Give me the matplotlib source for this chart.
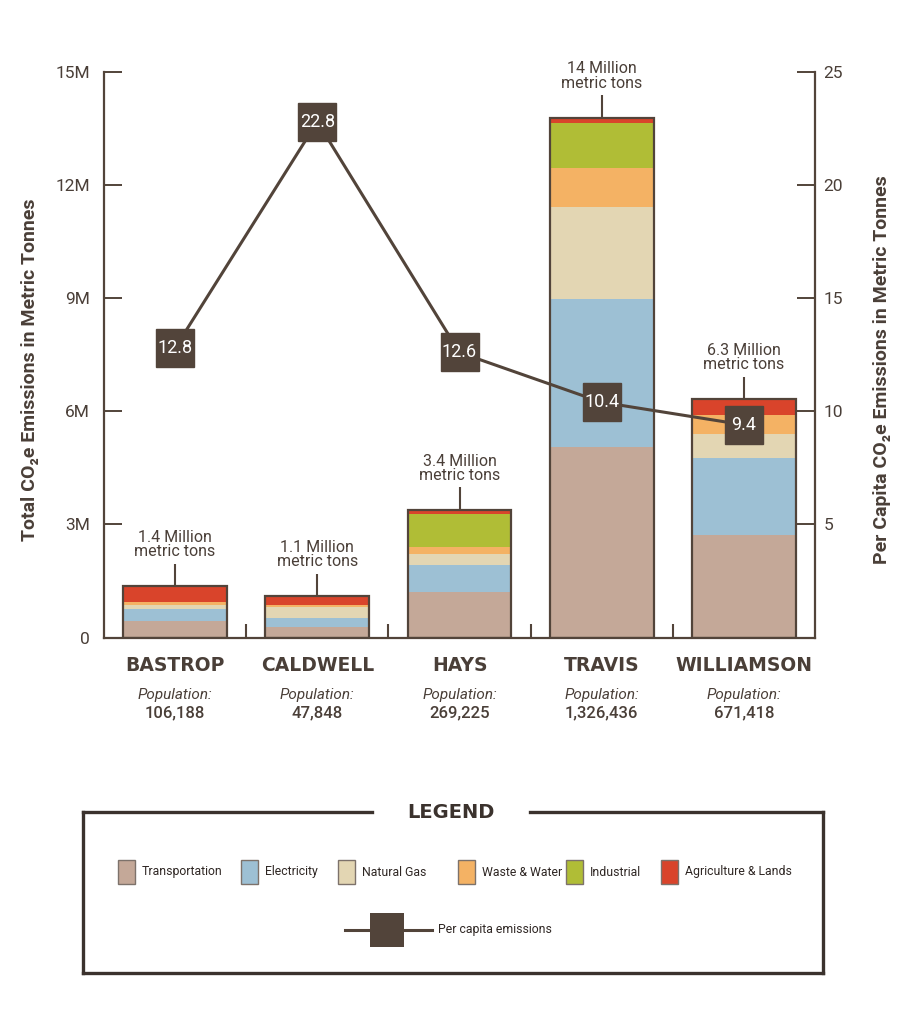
import matplotlib
matplotlib.use("Agg")
import matplotlib.pyplot as plt
import numpy as np
from matplotlib.patches import Rectangle
from matplotlib.lines import Line2D

plt.rcParams['font.family'] = ['Roboto', 'DejaVu Sans']

counties = ['BASTROP', 'CALDWELL', 'HAYS', 'TRAVIS', 'WILLIAMSON']
population = ['106,188', '47,848', '269,225', '1,326,436', '671,418']

# million metric tons
transportation = [0.44, 0.28, 1.20, 5.05, 2.72]
electricity = [0.32, 0.24, 0.73, 3.93, 2.04]
natural_gas = [0.11, 0.30, 0.28, 2.44, 0.65]
waste_water = [0.07, 0.04, 0.19, 1.03, 0.50]
industrial = [0.0, 0.0, 0.88, 1.21, 0.0]
agriculture = [0.42, 0.23, 0.10, 0.12, 0.41]

per_capita = [12.8, 22.8, 12.6, 10.4, 9.4]
total_labels = ['1.4 Million\nmetric tons', '1.1 Million\nmetric tons',
                '3.4 Million\nmetric tons', '14 Million\nmetric tons',
                '6.3 Million\nmetric tons']

sector_names = ['Transportation', 'Electricity', 'Natural Gas',
                'Waste & Water', 'Industrial', 'Agriculture & Lands']
sector_colors = ['#c4a898', '#9dc0d4', '#e3d6b3', '#f4b264', '#b0bd36', '#d9442b']

left_ticks = [0, 3e6, 6e6, 9e6, 12e6, 15e6]
left_tick_labels = ['0', '3M', '6M', '9M', '12M', '15M']
right_ticks = [5, 10, 15, 20, 25]

dark = '#52443a'
text_c = '#4a3f38'
box_c = '#3b322d'

W, H = 907, 1024


def fx(p):
    return p / W


def fy(p):
    return 1 - p / H


fig = plt.figure(figsize=(9.07, 10.24), dpi=100)
ax = fig.add_axes([fx(104), fy(637.5), fx(815) - fx(104), fy(72) - fy(637.5)])
ax2 = ax.twinx()

x = np.arange(len(counties))
width = 0.73
sectors = [transportation, electricity, natural_gas, waste_water, industrial, agriculture]
bottom = np.zeros(len(counties))
for vals, col in zip(sectors, sector_colors):
    v = np.array(vals) * 1e6
    ax.bar(x, v, width, bottom=bottom, color=col, linewidth=0, zorder=2)
    bottom += v
totals = bottom
ax.bar(x, totals, width, fill=False, edgecolor=dark, linewidth=1.6, zorder=3)

# total labels with connector
for xi, t, lab in zip(x, totals, total_labels):
    ax.vlines(xi, t, t + 0.6e6, color=dark, lw=1.5, zorder=3)
    ax.text(xi, t + 0.72e6, lab, ha='center', va='bottom', fontsize=11.5,
            color=text_c, linespacing=0.95)

# small separators on baseline
ax.vlines(x[:-1] + 0.5, 0, 0.36e6, color=dark, lw=1.5)

ax.set_xlim(-0.5, 4.5)
ax.set_ylim(0, 15e6)
ax.set_yticks(left_ticks)
ax.set_yticklabels(left_tick_labels)
ax.set_xticks([])
for s in ['top', 'right']:
    ax.spines[s].set_visible(False)
for s in ['left', 'bottom']:
    ax.spines[s].set_color(dark)
    ax.spines[s].set_linewidth(1.6)
ax.tick_params(axis='y', direction='in', length=13, width=1.4, color=dark,
               labelsize=12.5, labelcolor=text_c, pad=10)

ax2.set_ylim(0, 25)
ax2.set_yticks(right_ticks)
for s in ['top', 'left', 'bottom']:
    ax2.spines[s].set_visible(False)
ax2.spines['right'].set_color(dark)
ax2.spines['right'].set_linewidth(1.6)
ax2.tick_params(axis='y', direction='in', length=13, width=1.4, color=dark,
                labelsize=12.5, labelcolor=text_c, pad=6)

ax2.plot(x, per_capita, color=dark, lw=2.2, marker='s', markersize=27,
         markerfacecolor=dark, markeredgecolor=dark, zorder=5)
for xi, v in zip(x, per_capita):
    ax2.text(xi, v, f'{v}', ha='center', va='center', color='white',
             fontsize=13, zorder=6)

# county names and populations
tr = ax.get_xaxis_transform()
for xi, name, pop in zip(x, counties, population):
    ax.text(xi, -0.049, name, transform=tr, ha='center', va='center',
            fontsize=13.5, fontweight='bold', color=text_c,
            family=['DejaVu Sans'])
    ax.text(xi, -0.102, 'Population:', transform=tr, ha='center', va='center',
            fontsize=11, style='italic', color=text_c)
    ax.text(xi, -0.134, pop, transform=tr, ha='center', va='center',
            fontsize=12, fontweight='medium', color=text_c)

fig.text(fx(30), fy(370), 'Total CO\u2082e Emissions in Metric Tonnes',
         rotation=90, ha='center', va='center', fontsize=14, fontweight='bold',
         color=text_c)
fig.text(fx(882), fy(370), 'Per Capita CO\u2082e Emissions in Metric Tonnes',
         rotation=90, ha='center', va='center', fontsize=14, fontweight='bold',
         color=text_c)

# legend box
lw_box = 2.4
for seg in [((83, 372), (812, 812)), ((530, 823), (812, 812)),
            ((83, 83), (812, 973)), ((823, 823), (812, 973)),
            ((83, 823), (973, 973))]:
    fig.add_artist(Line2D([fx(p) for p in seg[0]], [fy(p) for p in seg[1]],
                          color=box_c, lw=lw_box, solid_capstyle='projecting'))
fig.text(fx(451), fy(812), 'LEGEND', ha='center', va='center', fontsize=14,
         fontweight='bold', color=box_c, family=['DejaVu Sans'])

patch_x = [118, 241, 338, 458, 566, 661]
for px, name, col in zip(patch_x, sector_names, sector_colors):
    fig.add_artist(Rectangle((fx(px), fy(884)), fx(17), 24 / H,
                             transform=fig.transFigure, facecolor=col,
                             edgecolor='#7d726b', lw=1.0))
    fig.text(fx(px + 24), fy(872), name, ha='left', va='center', fontsize=8.8,
             color='#2f2724')

fig.add_artist(Line2D([fx(345), fx(432)], [fy(930), fy(930)], color=dark, lw=2.2))
fig.add_artist(Rectangle((fx(370), fy(947)), fx(34), 34 / H,
                         transform=fig.transFigure, facecolor=dark,
                         edgecolor=dark, lw=0))
fig.text(fx(438), fy(930), 'Per capita emissions', ha='left', va='center',
         fontsize=8.8, color='#2f2724')

fig.savefig('out.png', dpi=100)
